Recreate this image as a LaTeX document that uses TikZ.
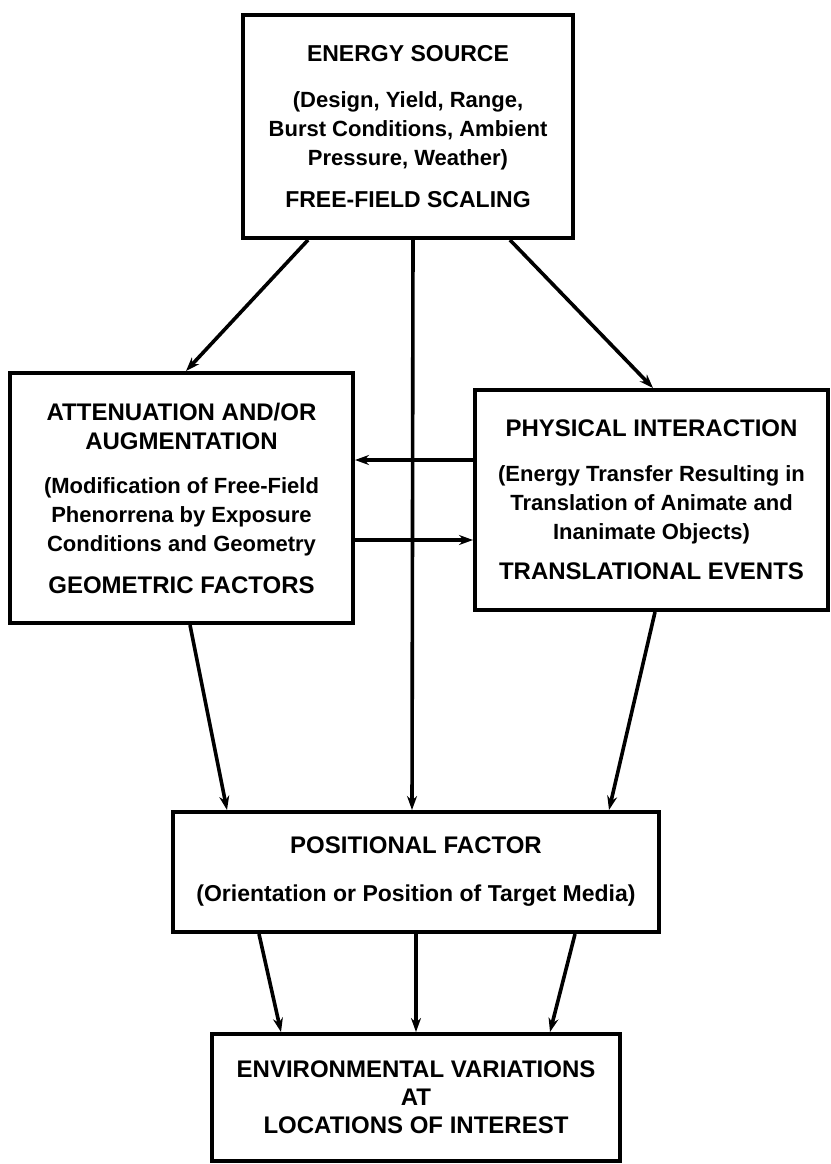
\documentclass[tikz,border=0pt]{standalone}
\usepackage{fontspec}
\setsansfont{Liberation Sans}
\usepackage{tikz}
\usetikzlibrary{arrows.meta}
\tikzstyle{blockbox} = [draw, line width=4pt, fill=white, inner sep=0pt, align=center,
  font=\sffamily\bfseries\fontsize{22}{29}\selectfont]
\tikzstyle{flowarrow} = [line width=3.6pt, -{Stealth[length=14pt, width=10pt]}]
\newcommand{\capline}[1]{{\fontsize{24}{29}\selectfont #1}}

\begin{document}
\begin{tikzpicture}[x=1pt, y=-1pt]
      \useasboundingbox (0, 0) rectangle (830, 1164);

      \node[blockbox, minimum width=330pt, minimum height=223pt] (source) at (408, 126.5)
        {{\fontsize{23}{29}\selectfont ENERGY SOURCE}\\[17pt]
         (Design, Yield, Range,\\ Burst Conditions, Ambient\\ Pressure, Weather)\\[13pt]
         {\fontsize{23}{29}\selectfont FREE-FIELD SCALING}};
      \node[blockbox, minimum width=343pt, minimum height=250pt] (atten) at (181.5, 498)
        {\capline{ATTENUATION AND/OR}\\ \capline{AUGMENTATION}\\[15pt]
         (Modification of Free-Field\\ Phenorrena by Exposure\\ Conditions and Geometry\\[13pt]
         \capline{GEOMETRIC FACTORS}};
      \node[blockbox, minimum width=353pt, minimum height=220pt] (phys) at (651.5, 500)
        {\capline{PHYSICAL INTERACTION}\\[16pt]
         (Energy Transfer Resulting in\\ Translation of Animate and\\ Inanimate Objects)\\[11pt]
         \capline{TRANSLATIONAL EVENTS}};
      \node[blockbox, minimum width=486pt, minimum height=120pt] (posit) at (416, 872)
        {\capline{POSITIONAL FACTOR}\\[19pt]
         {\fontsize{23}{29}\selectfont (Orientation or Position of Target Media)}};
      \node[blockbox, minimum width=408pt, minimum height=127pt] (env) at (416, 1097.5)
        {\capline{ENVIRONMENTAL VARIATIONS}\\[-1pt] \capline{AT}\\[-1pt]
         \capline{LOCATIONS OF INTEREST}};

      % from the source
      \draw[flowarrow] ([xshift=67pt]source.south west) -- ([xshift=178pt]atten.north west);
      \draw[flowarrow] ([xshift=-65pt]source.south east) -- ([xshift=180pt]phys.north west);
      \draw[flowarrow] ([xshift=5pt]source.south) -- ([xshift=-4pt]posit.north);

      % between the two middle blocks
      \draw[flowarrow] (phys.west |- 0, 460) -- (atten.east |- 0, 460);
      \draw[flowarrow] (atten.east |- 0, 540) -- (phys.west |- 0, 540);

      % into the positional factor
      \draw[flowarrow] ([xshift=182pt]atten.south west) -- ([xshift=56pt]posit.north west);
      \draw[flowarrow] ([xshift=182pt]phys.south west) -- ([xshift=-52pt]posit.north east);

      % to the locations of interest
      \draw[flowarrow] ([xshift=88pt]posit.south west) -- ([xshift=71pt]env.north west);
      \draw[flowarrow] (posit.south) -- (env.north);
      \draw[flowarrow] ([xshift=-86pt]posit.south east) -- ([xshift=-72pt]env.north east);
    \end{tikzpicture}
\end{document}
